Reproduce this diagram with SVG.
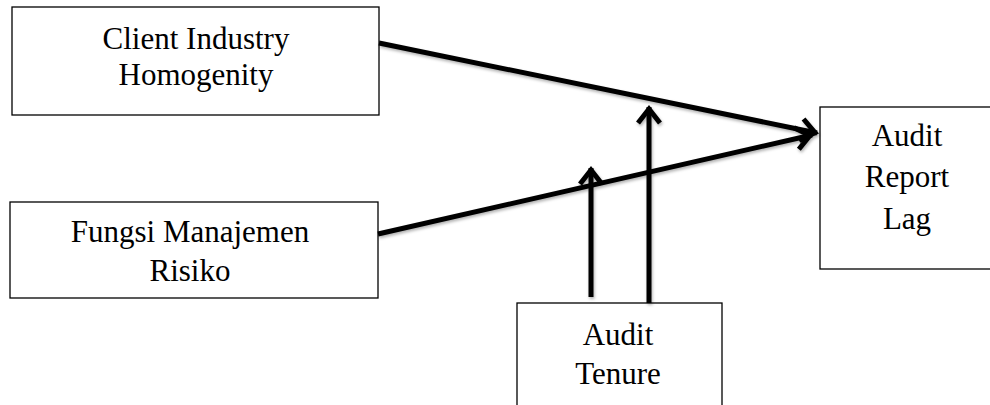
<svg xmlns="http://www.w3.org/2000/svg" width="990" height="405" viewBox="0 0 990 405">
  <style>
    .box { fill: #fff; stroke: #000; stroke-width: 1.3; }
    .lbl { font-family: "Liberation Serif", "Times New Roman", serif; font-size: 31px; fill: #000; text-anchor: middle; }
    .conn { stroke: #000; stroke-width: 5; fill: none; marker-end: url(#chev); }
  </style>
  <defs>
    <marker id="chev" markerUnits="userSpaceOnUse" markerWidth="40" markerHeight="40" refX="0" refY="0" viewBox="-30 -20 40 40" orient="auto" overflow="visible">
      <path d="M -16,-11 L -2,0 L -16,11" fill="none" stroke="#000" stroke-width="5" stroke-linejoin="miter"/>
    </marker>
    <filter id="shadow" x="-10%" y="-10%" width="120%" height="130%">
      <feDropShadow dx="1" dy="2" stdDeviation="1.5" flood-color="#000" flood-opacity="0.3"/>
    </filter>
  </defs>
  <rect width="990" height="405" fill="#fff"/>

  <g id="node-client">
    <rect class="box" x="12" y="7" width="367" height="108"/>
    <text class="lbl" x="196" y="49">Client Industry</text>
    <text class="lbl" x="196" y="85">Homogenity</text>
  </g>

  <g id="node-fungsi">
    <rect class="box" x="10" y="202" width="368" height="96"/>
    <text class="lbl" x="190" y="242">Fungsi Manajemen</text>
    <text class="lbl" x="190" y="281">Risiko</text>
  </g>

  <g id="node-arl">
    <rect class="box" x="820" y="107" width="180" height="162"/>
    <text class="lbl" x="907" y="146">Audit</text>
    <text class="lbl" x="907" y="187">Report</text>
    <text class="lbl" x="907" y="229">Lag</text>
  </g>

  <g id="node-tenure">
    <rect class="box" x="517" y="303" width="205" height="110"/>
    <text class="lbl" x="618" y="345">Audit</text>
    <text class="lbl" x="618" y="384">Tenure</text>
  </g>

  <g id="connectors" filter="url(#shadow)">
    <line class="conn" x1="379" y1="43" x2="817" y2="133"/>
    <line class="conn" x1="378" y1="234" x2="812" y2="135"/>
    <line class="conn" x1="591" y1="297" x2="591" y2="168"/>
    <line class="conn" x1="649" y1="303" x2="649" y2="107"/>
  </g>
</svg>
